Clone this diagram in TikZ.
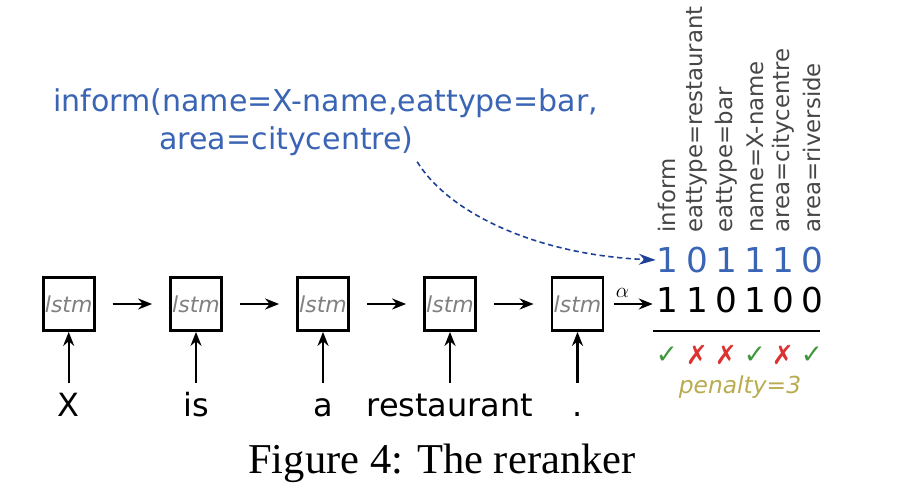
\documentclass[tikz,border=0pt]{standalone}
\usepackage{fontspec}
\setmainfont{Liberation Serif}
\setsansfont{DejaVu Sans}
\usepackage{tikz}
\usetikzlibrary{arrows.meta, positioning, calc}
\definecolor{slotblue}    {RGB}{58,  100, 180}
\definecolor{curveblue}   {RGB}{30,  64,  150}
\definecolor{okgreen}     {RGB}{60,  150, 60}
\definecolor{badred}      {RGB}{220, 50,  50}
\definecolor{penaltyolive}{RGB}{185, 172, 80}
\definecolor{labelgray}   {RGB}{70,  70,  70}

\tikzset{
	lstmbox/.style={draw, line width=1.6pt, minimum width=1.02cm, minimum height=1.06cm,
		inner sep=0pt, text=black!50, font=\sffamily\itshape\fontsize{12.5}{13}\selectfont},
	word/.style={anchor=base, text height=0.5cm, inner sep=0.18cm,
		font=\sffamily\fontsize{18.2}{20}\selectfont},
	flow/.style={-{Stealth[length=0.28cm,width=0.22cm]}, line width=1.2pt},
	slot/.style={anchor=base west, inner sep=0pt, text=slotblue,
		font=\sffamily\fontsize{17.1}{20}\selectfont},
	bit/.style={inner sep=0pt, font=\sffamily\fontsize{19.5}{20}\selectfont},
	collabel/.style={rotate=90, anchor=west, inner sep=0pt, text=labelgray,
		font=\sffamily\fontsize{13}{14}\selectfont},
	okmark/.style={inner sep=0pt, text=okgreen, font=\sffamily\fontsize{15}{15}\selectfont},
	badmark/.style={inner sep=0pt, text=badred, font=\sffamily\fontsize{15}{15}\selectfont}
}

\begin{document}
\begin{tikzpicture}[x=0.02cm,y=-0.02cm]
	\useasboundingbox (0,0) rectangle (908,492);
	% lstm chain and input words
	\foreach \i/\x/\w in {1/68.7/X, 2/196/is, 3/323/a, 4/450/restaurant, 5/577.5/.}{
		\node[lstmbox] (l\i) at (\x,304) {lstm};
		\node[word] (w\i) at (\x,417) {\w};
		\draw[flow] (w\i.north) -- (l\i.south);
	}
	\foreach \i/\j in {1/2, 2/3, 3/4, 4/5}
		\draw[flow, shorten <=0.34cm, shorten >=0.34cm] (l\i) -- (l\j);
	% meaning representation
	\node[slot] (info1) at (53,111.7) {inform(name=X-name,eattype=bar,};
	\node[slot] (info2) at (159,150) {area=citycentre)};
	% slot columns, reference and predicted vectors
	\foreach \i/\x/\s/\r/\p in {1/667/inform/1/1, 2/697/eattype=restaurant/0/1,
		3/726/eattype=bar/1/0, 4/755/name=X-name/1/1,
		5/783/area=citycentre/1/0, 6/812/area=riverside/0/0}{
		\node[collabel] (c\i) at (\x,233) {\s};
		\node[bit, text=slotblue] (v\i) at (\x,260) {\r};
		\node[bit] (p\i) at (\x,300) {\p};
	}
	\node[okmark]  (m1) at (667,355) {✓};
	\node[badmark] (m2) at (697,355) {✗};
	\node[badmark] (m3) at (726,355) {✗};
	\node[okmark]  (m4) at (755,355) {✓};
	\node[badmark] (m5) at (783,355) {✗};
	\node[okmark]  (m6) at (812,355) {✓};
	\draw[line width=1.1pt] (653,331) -- (820,331);
	\node[text=penaltyolive, font=\sffamily\itshape\fontsize{13.3}{14}\selectfont] (pen) at (740,387) {penalty=3};
	\draw[flow, shorten <=0.2cm, shorten >=0.06cm] (l5.east) -- node[above=0pt, pos=0.35, font=\fontsize{13}{13}\selectfont] {$\alpha$} (l5.east -| p1.west);
	\draw[curveblue, densely dashed, line width=0.9pt, -{Stealth[length=0.34cm,width=0.22cm,fill=curveblue]}, shorten <=0.12cm]
		(info2.south east) .. controls (450,215) and (540,255) .. (v1.west);
	\node[anchor=base west, inner sep=0pt, font=\fontsize{24.2}{26}\selectfont] (caption) at (248,473) {Figure 4: The reranker};
\end{tikzpicture}
\end{document}
